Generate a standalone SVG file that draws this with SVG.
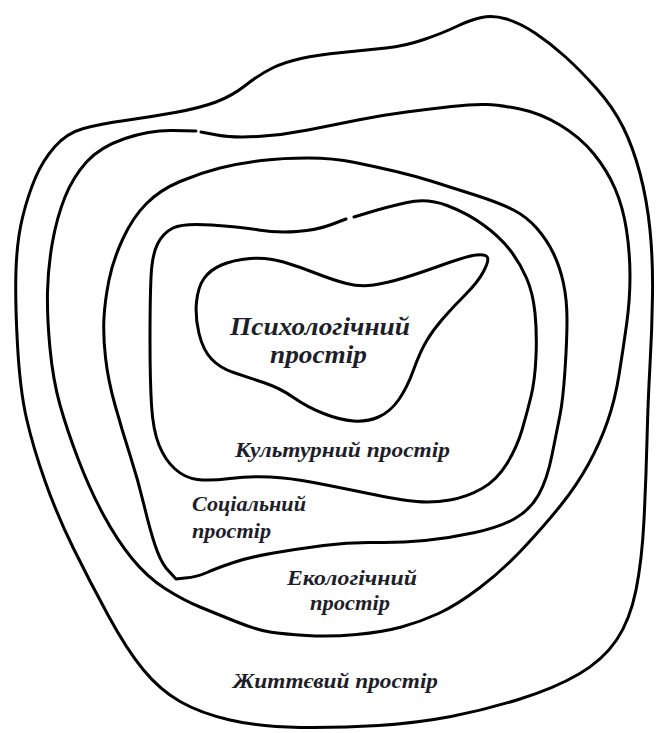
<svg xmlns="http://www.w3.org/2000/svg" width="657" height="733" viewBox="0 0 657 733">
<style>
.c{fill:none;stroke:#000;stroke-width:3;stroke-linejoin:round;stroke-linecap:round}
.t{font-family:"Liberation Serif","Times New Roman",serif;font-weight:bold;font-style:italic;fill:#1e1e2a}
</style>
<rect width="657" height="733" fill="#fff"/>
<g id="life-space">
<path class="c" d="M17.5,345 Q15,300 16,270 Q17,240 22.5,217.5 Q28,195 35.5,177.5 Q43,160 55,146.5 Q67,133 83.5,128.5 Q100,124 125,120.5 Q150,117 175,112.5 Q200,108 216,102 Q232,96 246,85 Q260,74 272.5,68 Q285,62 301,58.5 Q317,55 342,52.5 Q367,50 386,48 Q405,46 424,39.5 Q443,33 456.5,26.5 Q470,20 481.5,17.5 Q493,15 506.5,19 Q520,23 535,33 Q550,43 565,56.5 Q580,70 596.5,88.5 Q613,107 623,127 Q633,147 640,173.5 Q647,200 650,230 Q653,260 652.5,295 Q652,330 650,365 Q648,400 647,440 Q646,480 644,520 Q642,560 636,590 Q630,620 616.5,640 Q603,660 579,674 Q555,688 520,699 Q485,710 451,716.5 Q417,723 378.5,725.5 Q340,728 300,727.5 Q260,727 230,720 Q200,713 180,701.5 Q160,690 143.5,670 Q127,650 108.5,616 Q90,582 73.5,548.5 Q57,515 45,481 Q33,447 26.5,418.5 Q20,390 17.5,345 Z"/>
<text class="t" x="233" y="688" font-size="21" textLength="205" lengthAdjust="spacingAndGlyphs">Життєвий простір</text>
</g>
<g id="ecological-space">
<path class="c" d="M201,132 L217,135 Q233,138 258,136.5 Q283,135 308,130 Q333,125 358,120 Q383,115 406.5,112 Q430,109 451.5,106.5 Q473,104 486.5,104.5 Q500,105 520,109 Q540,113 560,125 Q580,137 593.5,153.5 Q607,170 615,188.5 Q623,207 626.5,230 Q630,253 630,276.5 Q630,300 626.5,325 Q623,350 619,375 Q615,400 607.5,421.5 Q600,443 588.5,464 Q577,485 561,505 Q545,525 524,547.5 Q503,570 480,587.5 Q457,605 438.5,613.5 Q420,622 401.5,627 Q383,632 356.5,634.5 Q330,637 306.5,635.5 Q283,634 270,632 Q257,630 237,622 Q217,614 200,607 Q183,600 165,588.5 Q147,577 132,558.5 Q117,540 103.5,515 Q90,490 78.5,460 Q67,430 60,405 Q53,380 50,348.5 Q47,317 47.5,292 Q48,267 52.5,242 Q57,217 65,197 Q73,177 86.5,162 Q100,147 125,138.5 Q150,130 173,130.5 L196,131"/>
<text class="t" x="287" y="585" font-size="21" textLength="130" lengthAdjust="spacingAndGlyphs">Екологічний</text>
<text class="t" x="310" y="610" font-size="21" textLength="80" lengthAdjust="spacingAndGlyphs">простір</text>
</g>
<g id="social-space">
<path class="c" d="M104,317.5 Q105,300 109,280 Q113,260 123,238.5 Q133,217 146.5,203.5 Q160,190 180,181.5 Q200,173 220,168 Q240,163 261.5,160.5 Q283,158 308,158 Q333,158 355,162.5 Q377,167 396,171.5 Q415,176 432.5,181.5 Q450,187 475,195 Q500,203 513.5,210 Q527,217 537,228.5 Q547,240 553.5,253.5 Q560,267 563.5,283.5 Q567,300 567,320 Q567,340 565,370 Q563,400 560,415 Q557,430 552,455 Q547,480 538.5,495 Q530,510 515,518.5 Q500,527 475,532.5 Q450,538 425,540.5 Q400,543 375,542.5 Q350,542 323.5,545.5 Q297,549 273.5,553 Q250,557 233.5,562.5 Q217,568 207,572.5 Q197,577 185,578 L176,579 L166,568 Q160,560 155,545 Q150,530 144,505 Q138,480 130,455 Q122,430 115,405 Q108,380 105.5,357.5 Q103,335 104,317.5 Z"/>
<text class="t" x="192" y="511" font-size="21" textLength="114" lengthAdjust="spacingAndGlyphs">Соціальний</text>
<text class="t" x="192" y="538" font-size="21" textLength="79" lengthAdjust="spacingAndGlyphs">простір</text>
</g>
<g id="cultural-space">
<path class="c" d="M354,217 L370.5,212 Q387,207 407,202.5 Q427,198 447,205.5 Q467,213 483.5,225 Q500,237 510,250 Q520,263 526.5,278 Q533,293 535,313 Q537,333 536,356.5 Q535,380 531,396.5 Q527,413 522,430 Q517,447 507,463.5 Q497,480 482,488.5 Q467,497 450,500 Q433,503 416.5,501.5 Q400,500 368.5,493.5 Q337,487 313.5,482.5 Q290,478 270,477 Q250,476 230,478.5 Q210,481 197.5,479.5 Q185,478 175,469 Q165,460 159,445 Q153,430 151.5,405 Q150,380 150,340 Q150,300 151,277.5 Q152,255 157.5,244 Q163,233 173,228 Q183,223 211.5,225 Q240,227 258.5,230 Q277,233 297,231.5 Q317,230 331.5,224.5 L346,219"/>
<text class="t" x="235" y="457" font-size="21" textLength="215" lengthAdjust="spacingAndGlyphs">Культурний простір</text>
</g>
<g id="psychological-space">
<path class="c" d="M199,333.5 Q195,317 196.5,302 Q198,287 204,278.5 Q210,270 221.5,265 Q233,260 250,258.5 Q267,257 283.5,262 Q300,267 316.5,273.5 Q333,280 346.5,283.5 Q360,287 373.5,285 Q387,283 403.5,278 Q420,273 443.5,264.5 Q467,256 476.5,255 Q486,254 487.5,257.5 Q489,261 483.5,271.5 Q478,282 465.5,294.5 Q453,307 443,318.5 Q433,330 426.5,341 Q420,352 413.5,370 Q407,388 398.5,400 Q390,412 378.5,417 Q367,422 353.5,421 Q340,420 323.5,413.5 Q307,407 293.5,397.5 Q280,388 263.5,382.5 Q247,377 233.5,372.5 Q220,368 211.5,359 Q203,350 199,333.5 Z"/>
<text class="t" x="230" y="335" font-size="25" textLength="180" lengthAdjust="spacingAndGlyphs">Психологічний</text>
<text class="t" x="270" y="363" font-size="25" textLength="97" lengthAdjust="spacingAndGlyphs">простір</text>
</g>
<g id="connectors"/>
</svg>
